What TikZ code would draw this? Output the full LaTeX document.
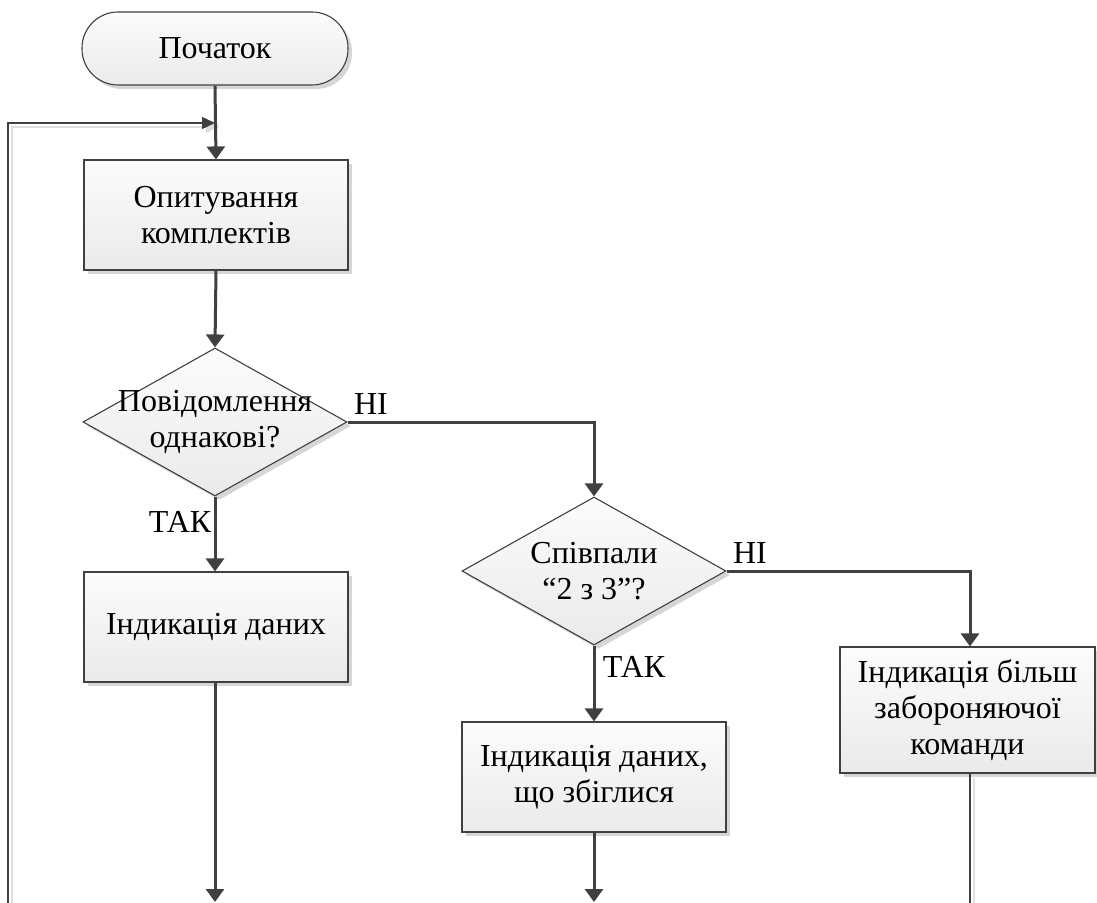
\documentclass[tikz,border=0pt]{standalone}
\usepackage{fontspec}
\setmainfont{Liberation Serif}
\usetikzlibrary{shapes.geometric,arrows.meta,shadows}

\definecolor{edge}{HTML}{404040}
\definecolor{fillTop}{HTML}{FCFCFC}
\definecolor{fillBot}{HTML}{EAEAEA}
\definecolor{shade}{HTML}{D6D6D6}

\tikzset{
  base/.style={draw=edge, line width=0.55pt, top color=fillTop, bottom color=fillBot,
    drop shadow={shadow xshift=2pt, shadow yshift=-2pt, fill=shade, opacity=1},
    inner sep=0pt},
  txt/.style={font=\fontsize{16pt}{18pt}\selectfont\rmfamily, align=center, text=black, inner sep=0pt},
  terminal/.style={base, rectangle, rounded corners=18pt, minimum width=133pt, minimum height=36.5pt},
  process/.style={base, rectangle, minimum width=132pt, minimum height=55pt},
  decision/.style={base, diamond, minimum width=132pt, minimum height=74pt},
  conn/.style={draw=edge, line width=1.5pt, -{Triangle[length=6.5pt, width=9pt]}},
  thinline/.style={draw=edge, line width=0.7pt,
    preaction={draw=black!13, line width=0.7pt, transform canvas={xshift=2pt, yshift=-2pt}}},
  thinarrow/.style={thinline, -{Triangle[length=6.5pt, width=6pt]}},
  lbl/.style={font=\fontsize{16pt}{18pt}\selectfont\rmfamily, text=black, inner sep=0pt}
}

\begin{document}
\begin{tikzpicture}[x=0.5pt, y=-0.5pt]
  \useasboundingbox (0,0) rectangle (1097,903);

  % shapes (text is set on top of them)
  \node[terminal] (start) at (215,48.5) {};
  \node[process] (poll) at (216,215) {};
  \node[decision] (q1) at (215,422) {};
  \node[process] (show) at (216,627) {};
  \node[decision] (q2) at (594,571) {};
  \node[process] (match) at (594,777) {};
  \node[process, minimum width=127.5pt, minimum height=63pt] (veto) at (967.5,710) {};

  % texts of the blocks
  \node[txt] (startT) at (start) {Початок};
  \node[txt] (pollT) at (poll) {Опитування\\комплектів};
  \node[txt] (q1T) at (q1) {Повідомлення\\однакові?};
  \node[txt] (showT) at (show) {Індикація даних};
  \node[txt] (q2T) at (q2) {Співпали\\“2 з 3”?};
  \node[txt] (matchT) at (match) {Індикація даних,\\що збіглися};
  \node[txt] (vetoT) at (veto) {Індикація більш\\забороняючої\\команди};

  % free ends of connectors
  \coordinate (loopLow) at (8,903);
  \coordinate (loopJoin) at (215,123);
  \coordinate (endA) at (215,902);
  \coordinate (endB) at (594,902);
  \coordinate (endC) at (970,903);

  % branch labels
  \node[lbl] (no1) at (371,404) {НІ};
  \node[lbl] (yes1) at (180,522) {ТАК};
  \node[lbl] (no2) at (750,553) {НІ};
  \node[lbl] (yes2) at (634,667) {ТАК};

  % connectors
  \draw[thinarrow] (loopLow) |- (loopJoin);
  \draw[conn] (start.south) -- (poll.north);
  \draw[conn] (poll.south) -- (q1.north);
  \draw[conn] (q1.east) -| (q2.north);
  \draw[conn] (q1.south) -- (q1.south |- show.north);
  \draw[conn] (q2.east) -| (veto.north -| endC);
  \draw[conn] (q2.south) -- (match.north);
  \draw[conn] (show.south -| endA) -- (endA);
  \draw[conn] (match.south) -- (endB);
  \draw[thinline] (veto.south -| endC) -- (endC);
\end{tikzpicture}
\end{document}
